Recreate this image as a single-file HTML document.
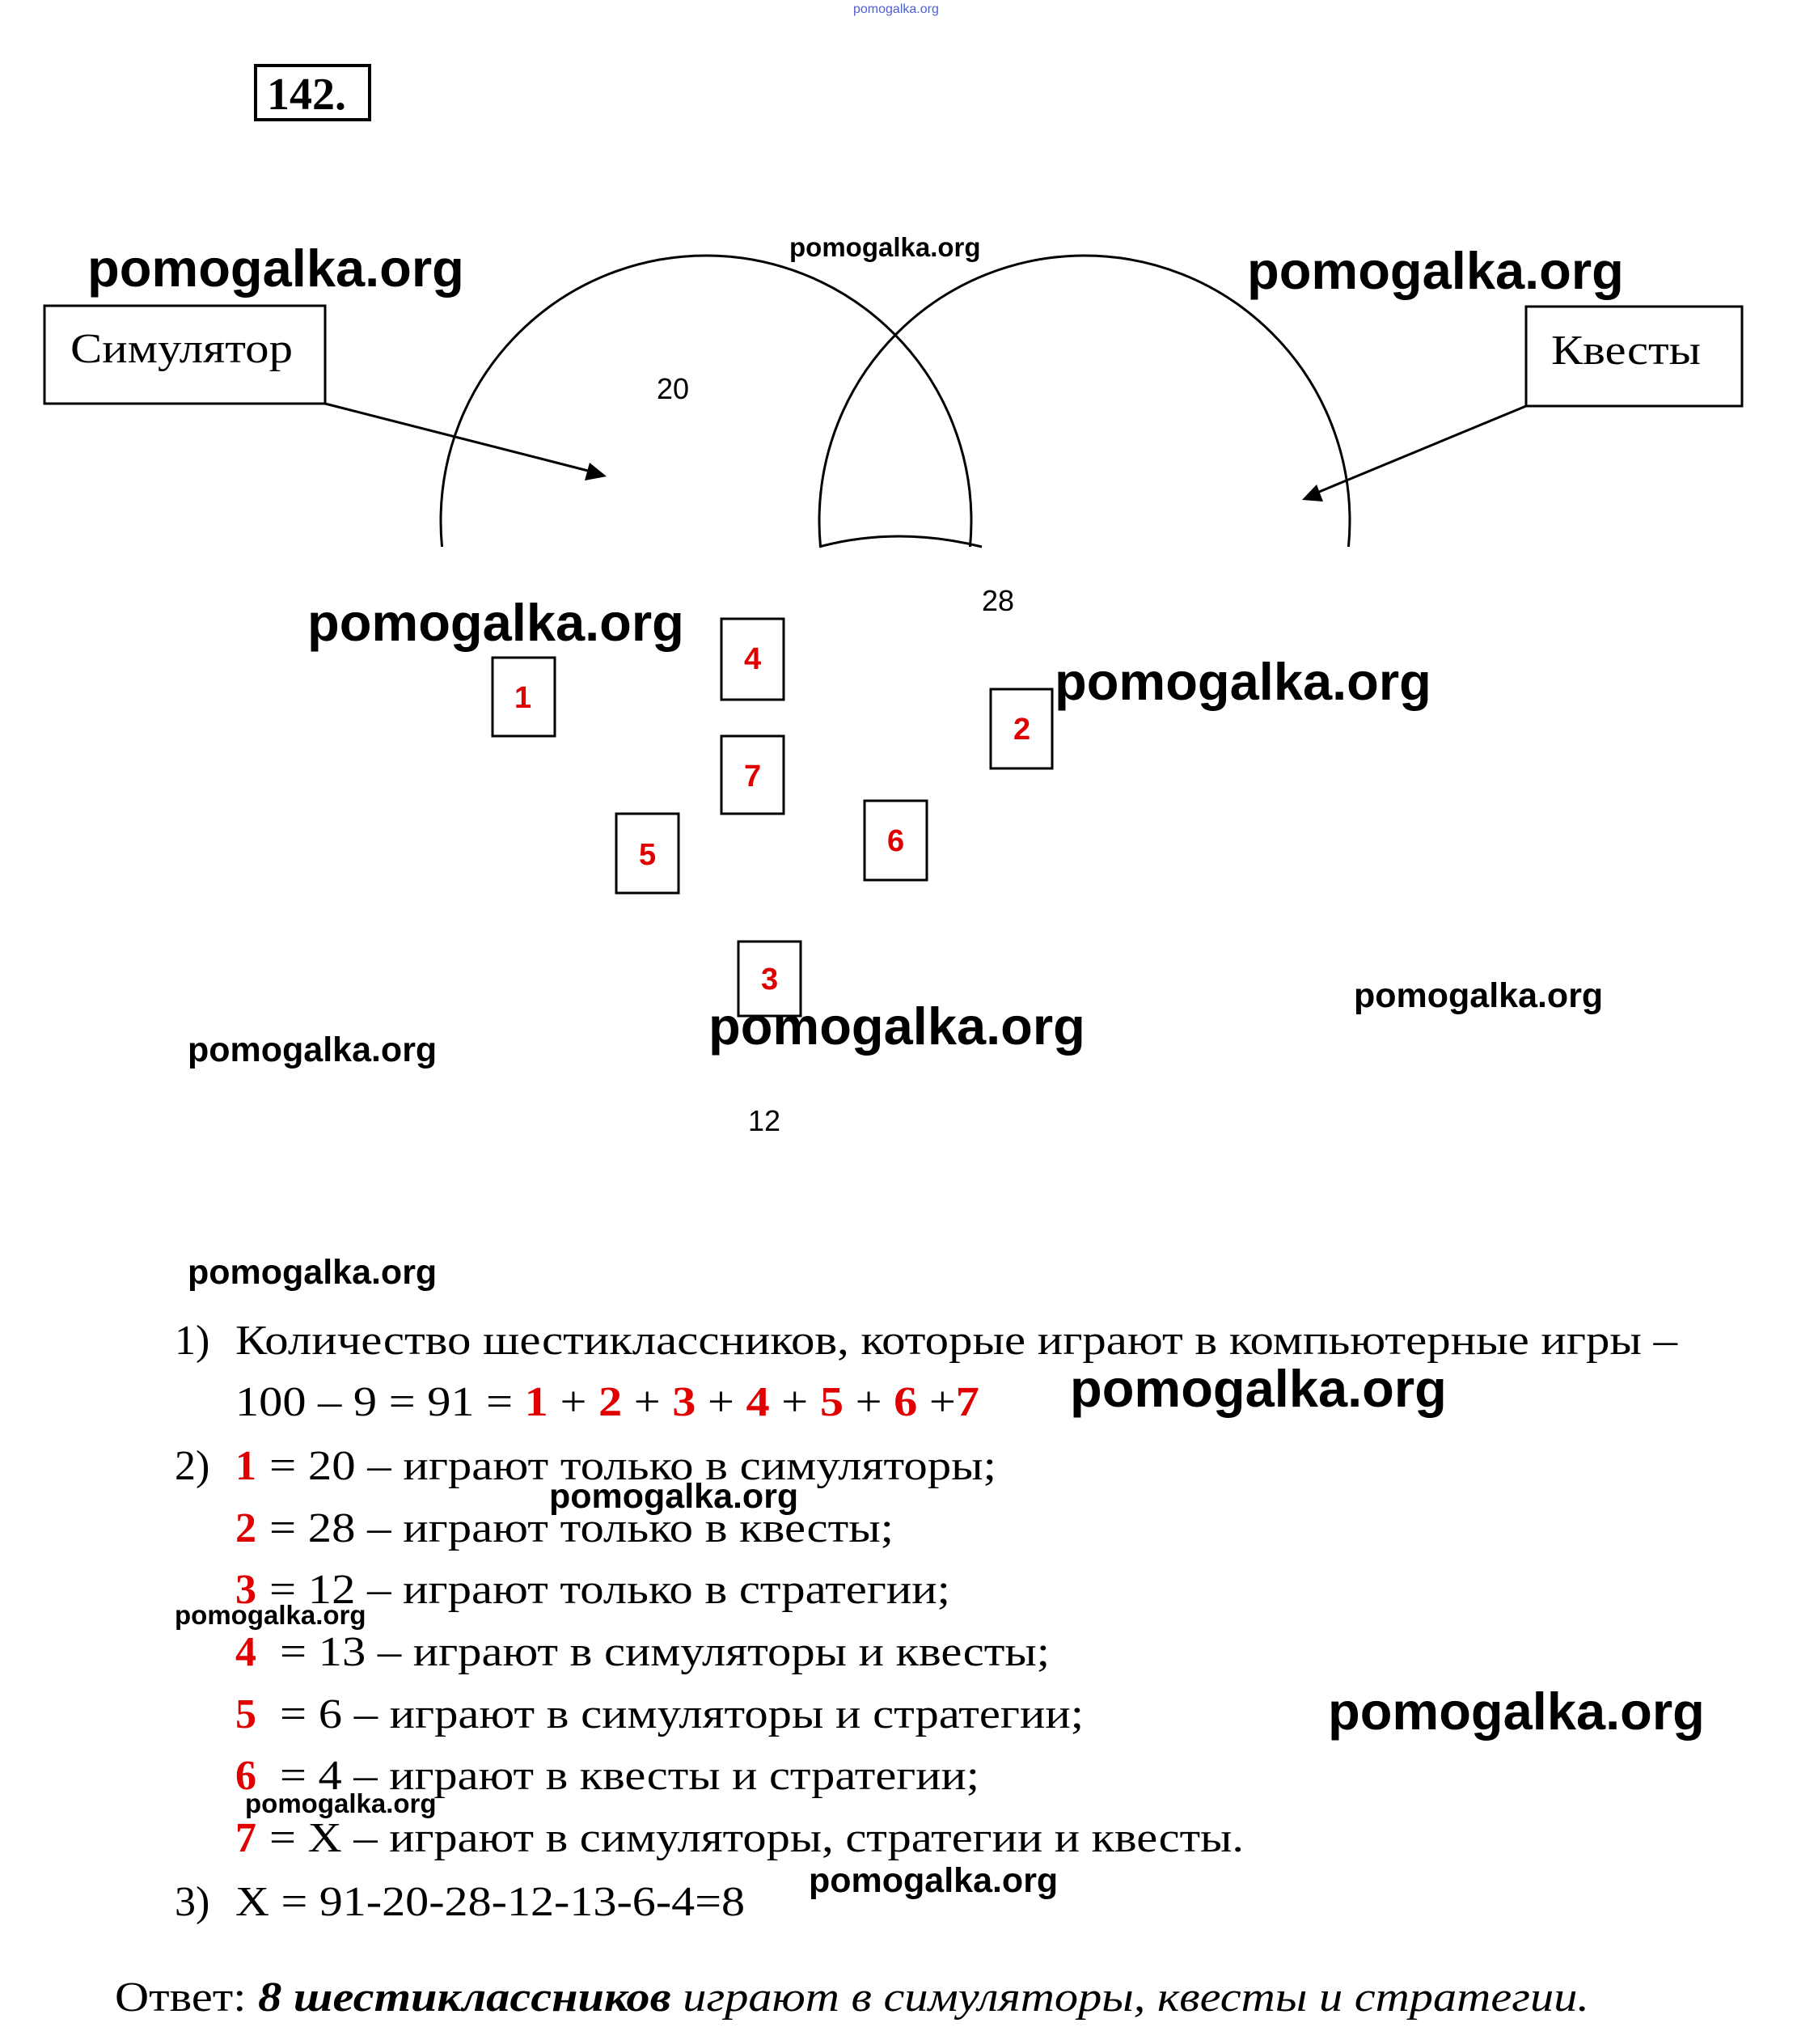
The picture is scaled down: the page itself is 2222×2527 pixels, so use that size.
<!DOCTYPE html>
<html><head><meta charset="utf-8"><style>
html,body{margin:0;padding:0;background:#fff;}
svg{display:block;}
.wl{font-family:"Liberation Sans",sans-serif;font-weight:bold;font-size:65px;fill:#000;}
.wm{font-family:"Liberation Sans",sans-serif;font-weight:bold;font-size:43px;fill:#000;}
.ws{font-family:"Liberation Sans",sans-serif;font-weight:bold;font-size:33px;fill:#000;}
.t{font-family:"Liberation Serif",serif;font-size:52px;fill:#000;}
.r{fill:#e00000;font-weight:bold;}
.n{font-family:"Liberation Sans",sans-serif;font-size:36px;fill:#000;}
.bn{font-family:"Liberation Sans",sans-serif;font-weight:bold;font-size:38px;fill:#e00000;}
</style></head><body>
<svg width="2222" height="2527" viewBox="0 0 2222 2527" xmlns="http://www.w3.org/2000/svg">
<defs><clipPath id="c"><rect x="0" y="0" width="2222" height="676"/></clipPath></defs>
<text x="1055" y="16" font-family="Liberation Sans,sans-serif" font-size="16" fill="#5060d0">pomogalka.org</text>
<rect x="316" y="81" width="141" height="67" fill="none" stroke="#000" stroke-width="4"/>
<text x="330" y="135" font-family="Liberation Serif,serif" font-weight="bold" font-size="56">142.</text>

<g clip-path="url(#c)" fill="none" stroke="#000" stroke-width="3">
<circle cx="873" cy="644" r="328"/>
<circle cx="1341" cy="644" r="328"/>
</g>
<path d="M1013 676 Q1110 650 1214 676" fill="none" stroke="#000" stroke-width="3"/>

<rect x="55" y="378" width="347" height="121" fill="none" stroke="#000" stroke-width="3"/>
<text x="87" y="448" class="t" font-size="54" textLength="275" lengthAdjust="spacingAndGlyphs">Симулятор</text>
<rect x="1887" y="379" width="267" height="123" fill="none" stroke="#000" stroke-width="3"/>
<text x="1918" y="450" class="t" font-size="54" textLength="185" lengthAdjust="spacingAndGlyphs">Квесты</text>
<line x1="402" y1="499" x2="735" y2="584" stroke="#000" stroke-width="3"/>
<polygon points="750,589 723,594 729,572" fill="#000"/>
<line x1="1887" y1="502" x2="1624" y2="611" stroke="#000" stroke-width="3"/>
<polygon points="1610,618 1628,599 1636,620" fill="#000"/>

<text x="812" y="493" class="n">20</text>
<text x="1214" y="755" class="n">28</text>
<text x="925" y="1398" class="n">12</text>

<g fill="none" stroke="#000" stroke-width="3">
<rect x="609" y="813" width="77" height="97"/>
<rect x="892" y="765" width="77" height="100"/>
<rect x="1225" y="852" width="76" height="98"/>
<rect x="892" y="910" width="77" height="96"/>
<rect x="762" y="1006" width="77" height="98"/>
<rect x="1069" y="990" width="77" height="98"/>
<rect x="913" y="1164" width="77" height="92"/>
</g>
<text x="636" y="875" class="bn">1</text>
<text x="920" y="827" class="bn">4</text>
<text x="1253" y="914" class="bn">2</text>
<text x="920" y="972" class="bn">7</text>
<text x="790" y="1069" class="bn">5</text>
<text x="1097" y="1052" class="bn">6</text>
<text x="941" y="1223" class="bn">3</text>

<text x="108" y="354" class="wl">pomogalka.org</text>
<text x="1542" y="357" class="wl">pomogalka.org</text>
<text x="380" y="792" class="wl">pomogalka.org</text>
<text x="1304" y="865" class="wl">pomogalka.org</text>
<text x="876" y="1291" class="wl">pomogalka.org</text>
<text x="1323" y="1739" class="wl">pomogalka.org</text>
<text x="1642" y="2138" class="wl">pomogalka.org</text>
<text x="232" y="1312" class="wm">pomogalka.org</text>
<text x="1674" y="1245" class="wm">pomogalka.org</text>
<text x="232" y="1587" class="wm">pomogalka.org</text>
<text x="976" y="317" class="ws">pomogalka.org</text>

<text x="216" y="1674" class="t">1)</text>
<text x="291" y="1674" class="t" textLength="1783" lengthAdjust="spacingAndGlyphs">Количество шестиклассников, которые играют в компьютерные игры –</text>
<text x="291" y="1750" class="t" textLength="920" lengthAdjust="spacingAndGlyphs">100 – 9 = 91 = <tspan class="r">1</tspan> + <tspan class="r">2</tspan> + <tspan class="r">3</tspan> + <tspan class="r">4</tspan> + <tspan class="r">5</tspan> + <tspan class="r">6</tspan> +<tspan class="r">7</tspan></text>
<text x="216" y="1829" class="t">2)</text>
<text x="291" y="1829" class="t r">1</text><text x="333" y="1829" class="t" textLength="899" lengthAdjust="spacingAndGlyphs">= 20 – играют только в симуляторы;</text>
<text x="291" y="1906" class="t r">2</text><text x="333" y="1906" class="t" textLength="772" lengthAdjust="spacingAndGlyphs">= 28 – играют только в квесты;</text>
<text x="291" y="1982" class="t r">3</text><text x="333" y="1982" class="t" textLength="842" lengthAdjust="spacingAndGlyphs">= 12 – играют только в стратегии;</text>
<text x="291" y="2059" class="t r">4</text><text x="346" y="2059" class="t" textLength="952" lengthAdjust="spacingAndGlyphs">= 13 – играют в симуляторы и квесты;</text>
<text x="291" y="2136" class="t r">5</text><text x="346" y="2136" class="t" textLength="994" lengthAdjust="spacingAndGlyphs">= 6 – играют в симуляторы и стратегии;</text>
<text x="291" y="2212" class="t r">6</text><text x="346" y="2212" class="t" textLength="865" lengthAdjust="spacingAndGlyphs">= 4 – играют в квесты и стратегии;</text>
<text x="291" y="2289" class="t r">7</text><text x="333" y="2289" class="t" textLength="1205" lengthAdjust="spacingAndGlyphs">= X – играют в симуляторы, стратегии и квесты.</text>
<text x="216" y="2368" class="t">3)</text>
<text x="291" y="2368" class="t" textLength="630" lengthAdjust="spacingAndGlyphs">X = 91-20-28-12-13-6-4=8</text>
<text x="142" y="2486" class="t" textLength="1823" lengthAdjust="spacingAndGlyphs">Ответ: <tspan font-style="italic" font-weight="bold">8 шестиклассников</tspan><tspan font-style="italic"> играют в симуляторы, квесты и стратегии.</tspan></text>

<text x="679" y="1864" class="wm">pomogalka.org</text>
<text x="1000" y="2339" class="wm">pomogalka.org</text>
<text x="216" y="2008" class="ws">pomogalka.org</text>
<text x="303" y="2241" class="ws">pomogalka.org</text>
</svg>
</body></html>
